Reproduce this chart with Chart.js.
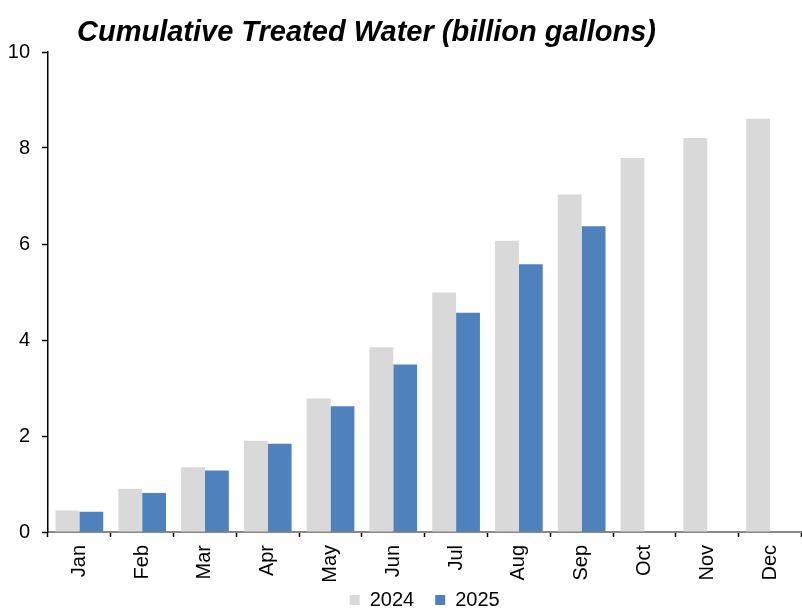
<!DOCTYPE html>
<html>
<head>
<meta charset="utf-8">
<script src="https://cdn.jsdelivr.net/npm/chart.js@4/dist/chart.umd.min.js"></script>
<style>
  html, body { margin: 0; padding: 0; background: #fff; }
  #wrap { width: 802px; height: 610px; }
</style>
</head>
<body>
<div id="wrap"><canvas id="waterChart" width="802" height="610"></canvas></div>
<script>
var months = ["Jan", "Feb", "Mar", "Apr", "May", "Jun", "Jul", "Aug", "Sep", "Oct", "Nov", "Dec"];
var values2024 = [0.45, 0.90, 1.35, 1.90, 2.78, 3.85, 4.99, 6.07, 7.03, 7.79, 8.21, 8.61];
var values2025 = [0.42, 0.81, 1.28, 1.84, 2.62, 3.49, 4.57, 5.58, 6.37, null, null, null];
var titleText = "Cumulative Treated Water (billion gallons)";

var fontFamily = "'Liberation Sans', Arial, sans-serif";

// title sits left of centre in the original, so draw it ourselves
var titlePlugin = {
    id: "leftTitle",
    afterDraw: function (chart) {
        var ctx = chart.ctx;
        ctx.save();
        ctx.font = "italic bold 29px " + fontFamily;
        ctx.fillStyle = "#000";
        ctx.textBaseline = "alphabetic";
        ctx.textAlign = "left";
        ctx.fillText(titleText, 77, 41);
        ctx.restore();
    }
};

// legend uses the same padding for row height and item gap;
// pull it up a bit so it sits tight under the month labels
var legendNudge = {
    id: "legendNudge",
    afterLayout: function (chart) {
        if (chart.legend) {
            chart.legend.top -= 15;
            chart.legend.bottom -= 15;
        }
    }
};

var ctx = document.getElementById("waterChart").getContext("2d");
var chart = new Chart(ctx, {
    type: "bar",
    data: {
        labels: months,
        datasets: [
            { label: "2024", data: values2024, backgroundColor: "#D9D9D9" },
            { label: "2025", data: values2025, backgroundColor: "#4F81BD" }
        ]
    },
    options: {
        responsive: false,
        animation: false,
        layout: { padding: { top: 52, left: 0, right: 0, bottom: -25 } },
        datasets: {
            bar: { categoryPercentage: 0.76, barPercentage: 1.0 }
        },
        plugins: {
            title: { display: false },
            tooltip: { enabled: false },
            legend: {
                position: "bottom",
                fullSize: false,
                labels: {
                    boxWidth: 10,
                    boxHeight: 10,
                    padding: 21,
                    color: "#000",
                    font: { family: fontFamily, size: 20 }
                }
            }
        },
        scales: {
            x: {
                afterFit: function (scale) { scale.height = 52; },
                grid: {
                    display: true,
                    drawOnChartArea: false,
                    drawTicks: true,
                    tickLength: 5,
                    tickColor: "#000",
                    tickWidth: 1.5
                },
                border: { display: true, color: "#888", width: 2 },
                ticks: {
                    color: "#000",
                    maxRotation: 90,
                    minRotation: 90,
                    padding: 8,
                    font: { family: fontFamily, size: 20 }
                }
            },
            y: {
                min: 0,
                max: 10,
                afterFit: function (scale) { scale.width = 48; },
                grid: {
                    display: true,
                    drawOnChartArea: false,
                    drawTicks: true,
                    tickLength: 6,
                    tickColor: "#000",
                    tickWidth: 1.5
                },
                border: { display: true, color: "#000", width: 1.5 },
                ticks: {
                    stepSize: 2,
                    color: "#000",
                    padding: 12,
                    font: { family: fontFamily, size: 20 }
                }
            }
        }
    },
    plugins: [titlePlugin, legendNudge]
});
</script>
</body>
</html>
